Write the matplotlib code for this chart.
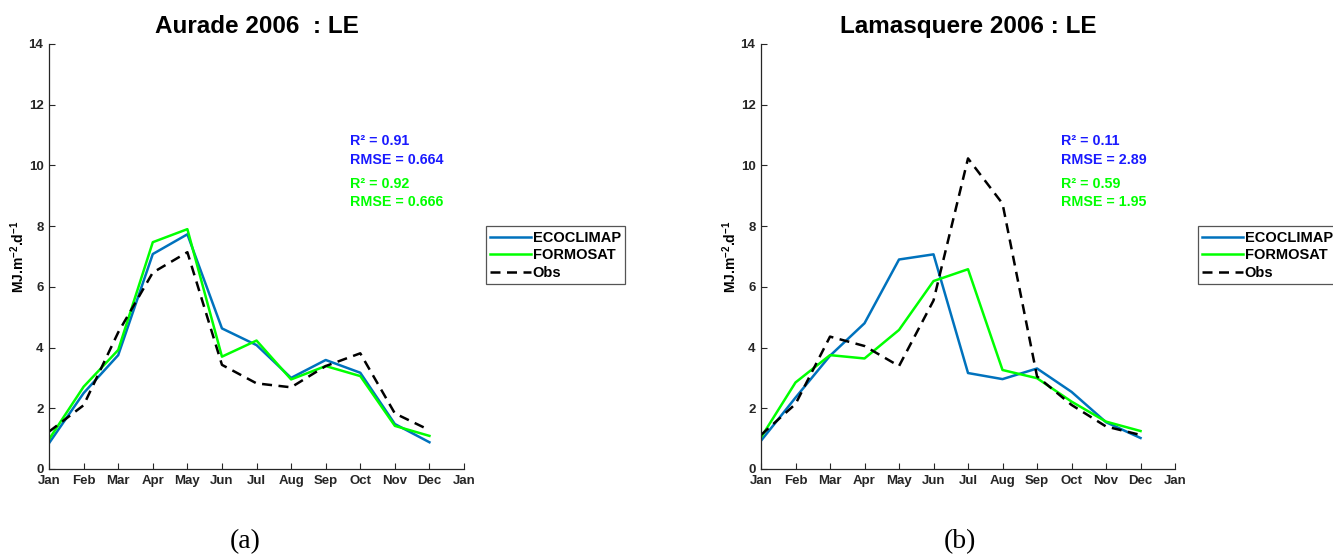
import matplotlib.pyplot as plt
import numpy as np

plt.rcParams['font.family'] = ['Liberation Sans', 'DejaVu Sans']
plt.rcParams['mathtext.fontset'] = 'custom'
plt.rcParams['mathtext.rm'] = 'Liberation Sans:bold'
plt.rcParams['mathtext.it'] = 'Liberation Sans:bold'
plt.rcParams['mathtext.bf'] = 'Liberation Sans:bold'

# ---------------------------------------------------------------------------
# data (monthly means, MJ.m-2.d-1)
# ---------------------------------------------------------------------------
months = ["Jan", "Feb", "Mar", "Apr", "May", "Jun", "Jul", "Aug", "Sep",
          "Oct", "Nov", "Dec", "Jan"]

aurade_eco = [0.85, 2.5, 3.75, 7.08, 7.73, 4.63, 4.08, 3.0, 3.59, 3.17, 1.48, 0.88]
aurade_for = [0.98, 2.71, 3.92, 7.47, 7.9, 3.7, 4.23, 2.95, 3.39, 3.06, 1.42, 1.09]
aurade_obs = [1.23, 2.1, 4.5, 6.47, 7.14, 3.43, 2.82, 2.69, 3.39, 3.81, 1.83, 1.28]

lamas_eco = [0.93, 2.35, 3.73, 4.8, 6.9, 7.07, 3.16, 2.96, 3.31, 2.54, 1.54, 1.02]
lamas_for = [1.04, 2.85, 3.75, 3.64, 4.58, 6.19, 6.58, 3.26, 2.99, 2.22, 1.56, 1.25]
lamas_obs = [1.12, 2.14, 4.36, 4.05, 3.39, 5.55, 10.23, 8.74, 3.05, 2.11, 1.4, 1.12]

titles = ["Aurade 2006  : LE", "Lamasquere 2006 : LE"]
stats_eco = [("R² = 0.91", "RMSE = 0.664"), ("R² = 0.11", "RMSE = 2.89")]
stats_for = [("R² = 0.92", "RMSE = 0.666"), ("R² = 0.59", "RMSE = 1.95")]
panel_tags = ["(a)", "(b)"]

BLUE = "#0072BD"
GREEN = "#00FF00"
AXCOL = "#262626"


def draw_panel(ax, eco, form, obs, title, s_eco, s_for):
    x = np.arange(1, len(eco) + 1)
    l1, = ax.plot(x, eco, color=BLUE, lw=1.8, label="ECOCLIMAP")
    l2, = ax.plot(x, form, color=GREEN, lw=1.8, label="FORMOSAT")
    l3, = ax.plot(x, obs, color="black", lw=1.8, ls=(0, (4, 2.6)), label="Obs")

    ax.set_xlim(1, 13)
    ax.set_ylim(0, 14)
    ax.set_xticks(np.arange(1, 14))
    ax.set_xticklabels(months)
    ax.set_yticks(np.arange(0, 15, 2))
    ax.tick_params(direction="in", length=4, width=0.8, colors=AXCOL,
                   labelsize=9.5, pad=4)
    for lab in ax.get_xticklabels() + ax.get_yticklabels():
        lab.set_fontweight("bold")
    for side in ["top", "right"]:
        ax.spines[side].set_visible(False)
    for side in ["left", "bottom"]:
        ax.spines[side].set_color(AXCOL)
        ax.spines[side].set_linewidth(0.9)

    ax.set_title(title, fontsize=17.5, fontweight="bold", pad=8)
    ax.set_ylabel(r"MJ.m$^{-2}$.d$^{-1}$", fontsize=10,
                  fontweight="bold", labelpad=1)

    kw = dict(fontsize=10.3, fontweight="bold", va="center")
    ax.text(9.7, 10.8, s_eco[0], color="#1a1aff", **kw)
    ax.text(9.7, 10.18, s_eco[1], color="#1a1aff", **kw)
    ax.text(9.7, 9.39, s_for[0], color=GREEN, **kw)
    ax.text(9.7, 8.79, s_for[1], color=GREEN, **kw)
    return [l1, l2, l3]


fig = plt.figure(figsize=(13.33, 5.55), dpi=100)
ax1 = fig.add_axes([0.0368, 0.155, 0.3113, 0.7658])
ax2 = fig.add_axes([0.5709, 0.155, 0.3106, 0.7658])

panels = [(ax1, aurade_eco, aurade_for, aurade_obs),
          (ax2, lamas_eco, lamas_for, lamas_obs)]
legend_x = [0.3646, 0.8987]
tag_x = [0.184, 0.72]

for i, (ax, eco, form, obs) in enumerate(panels):
    lines = draw_panel(ax, eco, form, obs, titles[i], stats_eco[i], stats_for[i])
    leg = fig.legend(lines, [l.get_label() for l in lines], loc="upper left",
                     bbox_to_anchor=(legend_x[i], 0.592), fancybox=False,
                     framealpha=1, edgecolor="#555555", fontsize=10.5,
                     handlelength=2.8, handletextpad=0.1, borderpad=0.3,
                     labelspacing=0.25, borderaxespad=0)
    leg.get_frame().set_linewidth(0.9)
    for t in leg.get_texts():
        t.set_fontweight("bold")
    fig.text(tag_x[i], 0.012, panel_tags[i], fontsize=20,
             family=["Liberation Serif", "DejaVu Serif"], ha="center")

fig.savefig("out.png", dpi=100)
